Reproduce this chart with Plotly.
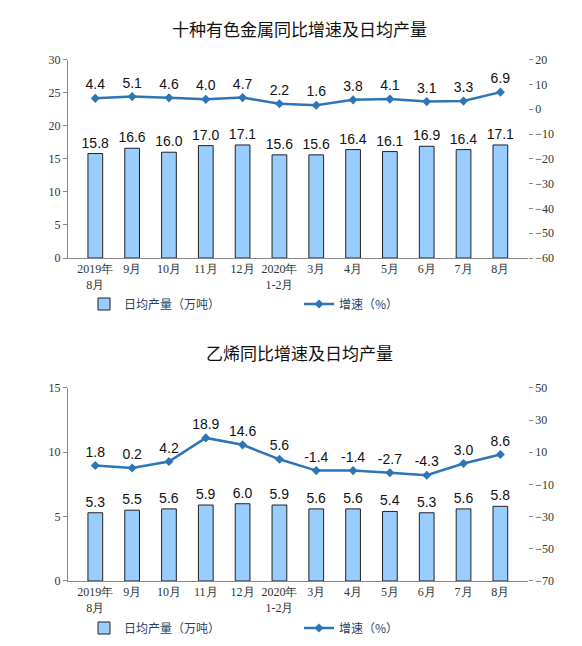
import plotly.graph_objects as go

cats = ["2019年<br>8月","9月","10月","11月","12月","2020年<br>1-2月","3月","4月","5月","6月","7月","8月"]
metal_output = [15.8,16.6,16.0,17.0,17.1,15.6,15.6,16.4,16.1,16.9,16.4,17.1]
metal_growth = [4.4,5.1,4.6,4.0,4.7,2.2,1.6,3.8,4.1,3.1,3.3,6.9]
eth_output = [5.3,5.5,5.6,5.9,6.0,5.9,5.6,5.6,5.4,5.3,5.6,5.8]
eth_growth = [1.8,0.2,4.2,18.9,14.6,5.6,-1.4,-1.4,-2.7,-4.3,3.0,8.6]

BAR = "#99CCFF"; LINE = "#2E75B6"
tf = dict(family="Liberation Serif", size=12, color="#333")
lf = dict(family="Liberation Sans", size=14, color="#111")

fig = go.Figure()
def add(out, gr, xa, ya, ya2, leg):
    fig.add_trace(go.Bar(x=cats, y=out, xaxis=xa, yaxis=ya, name="日均产量（万吨）",
        marker=dict(color=BAR, line=dict(color="#222", width=1)), width=0.4,
        text=[f"{v:.1f}" for v in out], textposition="outside", textfont=lf,
        constraintext="none", cliponaxis=False, legend=leg))
    fig.add_trace(go.Scatter(x=cats, y=gr, xaxis=xa, yaxis=ya2, name="增速（%）",
        mode="lines+markers+text", line=dict(color=LINE, width=2.5),
        marker=dict(symbol="diamond", size=7, color=LINE),
        text=[f"{v:.1f}" for v in gr], textposition="top center", textfont=lf,
        cliponaxis=False, legend=leg))
add(metal_output, metal_growth, "x", "y", "y2", "legend")
add(eth_output, eth_growth, "x2", "y3", "y4", "legend2")

xd = [0.103, 0.893]
ax = dict(showgrid=False, linecolor="#888", tickfont=tf, ticks="outside", ticklen=4, tickcolor="#888", zeroline=False, automargin=False)
fig.update_layout(
    width=582, height=646, margin=dict(l=0, r=0, t=0, b=0, autoexpand=False),
    paper_bgcolor="white", plot_bgcolor="white", bargap=0.5, uniformtext=dict(mode=False),
    xaxis=dict(domain=xd, anchor="y", showline=True, linecolor="#888", tickfont=tf, ticks="", automargin=False),
    yaxis=dict(domain=[0.613, 0.920], range=[0, 30], dtick=5, showline=True, **ax),
    yaxis2=dict(overlaying="y", side="right", anchor="x", range=[-60, 20], dtick=10, showline=False, **ax),
    xaxis2=dict(domain=xd, anchor="y3", showline=True, linecolor="#888", tickfont=tf, ticks="", automargin=False),
    yaxis3=dict(domain=[0.113, 0.412], range=[0, 15], dtick=5, showline=True, **ax),
    yaxis4=dict(overlaying="y3", side="right", anchor="x2", range=[-70, 50], tickvals=[50,30,10,-10,-30,-50,-70], showline=False, **ax),
    legend=dict(orientation="h", x=0.5, xanchor="center", y=1-296/646, yanchor="middle", yref="paper", font=dict(family="Noto Sans CJK SC", size=12), entrywidth=170),
    legend2=dict(orientation="h", x=0.5, xanchor="center", y=1-620/646, yanchor="middle", yref="paper", font=dict(family="Noto Sans CJK SC", size=12), entrywidth=170),
    annotations=[
        dict(text="十种有色金属同比增速及日均产量", x=0.5, y=1-20/646, xref="paper", yref="paper", yanchor="middle", showarrow=False, font=dict(family="Noto Sans CJK SC", size=17, color="#111")),
        dict(text="乙烯同比增速及日均产量", x=0.5, y=1-345/646, xref="paper", yref="paper", yanchor="middle", showarrow=False, font=dict(family="Noto Sans CJK SC", size=17, color="#111")),
    ],
)
fig.write_html("out.html")
